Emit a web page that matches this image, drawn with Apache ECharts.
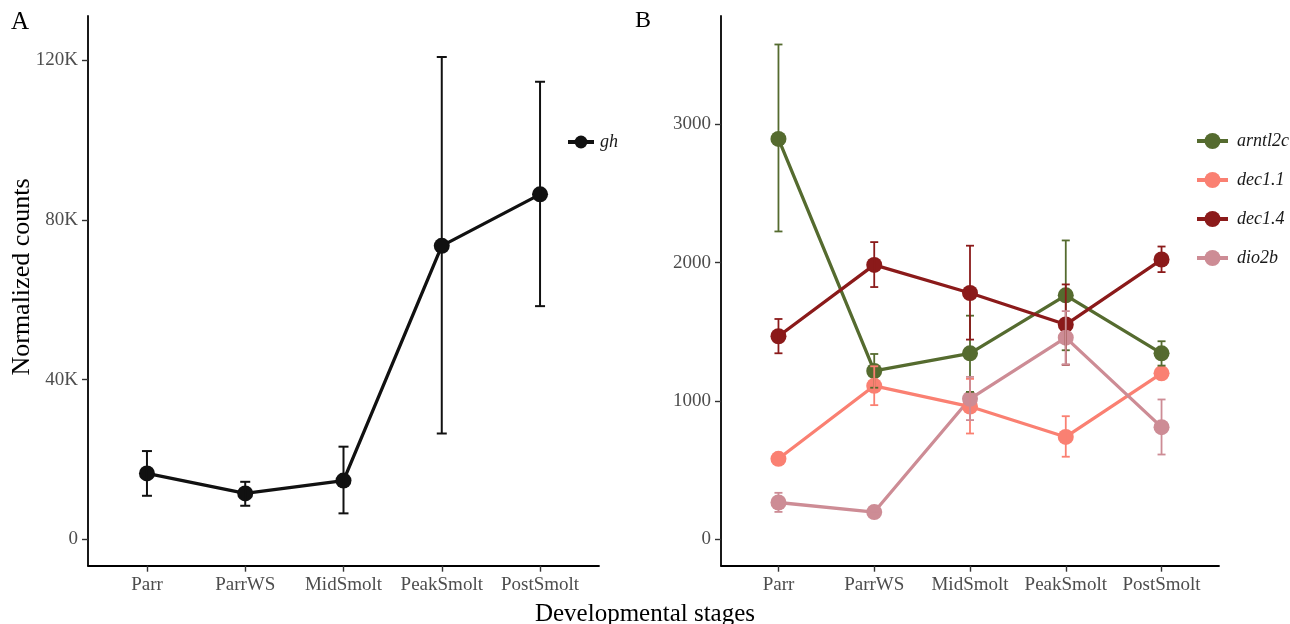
<!DOCTYPE html>
<html>
<head>
<meta charset="utf-8">
<script src="https://cdn.jsdelivr.net/npm/echarts@6/dist/echarts.min.js"></script>
<style>
html,body{margin:0;padding:0;background:#fff;}
#chart{width:1290px;height:624px;}
</style>
</head>
<body>
<div id="chart"></div>
<script>
// ---- data ----
const stages = ['Parr', 'ParrWS', 'MidSmolt', 'PeakSmolt', 'PostSmolt'];

const ticksA = [0, 40000, 80000, 120000];
const ticksB = [0, 1000, 2000, 3000];

const ghMean = [16500, 11500, 14700, 73500, 86400];
const ghLow  = [10900, 8400, 6500, 26500, 58400];
const ghHigh = [22100, 14400, 23200, 120800, 114600];

const arntl2cMean = [2895, 1217, 1345, 1764, 1345];
const arntl2cLow  = [2226, 1096, 1066, 1367, 1256];
const arntl2cHigh = [3578, 1340, 1617, 2161, 1432];

const dec11Mean = [582, 1110, 960, 740, 1200];
const dec11Low  = [555, 970, 765, 597, 1175];
const dec11High = [610, 1251, 1160, 890, 1225];

const dec14Mean = [1468, 1984, 1781, 1553, 2023];
const dec14Low  = [1345, 1824, 1444, 1262, 1932];
const dec14High = [1593, 2149, 2123, 1843, 2117];

const dio2bMean = [266, 197, 1016, 1458, 811];
const dio2bLow  = [198, 185, 862, 1265, 613];
const dio2bHigh = [336, 210, 1174, 1650, 1011];

// ---- build ----
const FONT = 'Liberation Serif';
const idx = stages.map((_, i) => i);

function xAxisCfg(gi) {
  return {
    type: 'value', gridIndex: gi, min: -0.6, max: 4.6,
    axisLine: {show: true, onZero: false, lineStyle: {color: '#000', width: 1.8}},
    axisTick: {show: true, customValues: idx, length: 6, lineStyle: {color: '#333', width: 1.4}},
    axisLabel: {show: true, customValues: idx, margin: 10, fontFamily: FONT, fontSize: 19, color: '#4d4d4d',
      formatter: v => stages[Math.round(v)]},
    splitLine: {show: false}
  };
}
function yAxisCfg(gi, min, max, ticks, fmt) {
  return {
    type: 'value', gridIndex: gi, min: min, max: max,
    axisLine: {show: true, onZero: false, lineStyle: {color: '#000', width: 1.8}},
    axisTick: {show: true, customValues: ticks, length: 6, lineStyle: {color: '#333', width: 1.4}},
    axisLabel: {show: true, customValues: ticks, margin: 10, fontFamily: FONT, fontSize: 19, color: '#4d4d4d',
      formatter: fmt},
    splitLine: {show: false}
  };
}

function lineSeries(name, mean, color, gi) {
  return {
    type: 'line', name: name, xAxisIndex: gi, yAxisIndex: gi, z: 2,
    data: mean.map((v, i) => [i, v]),
    symbol: 'circle', symbolSize: 16, showSymbol: true,
    lineStyle: {color: color, width: 3.3},
    itemStyle: {color: color},
    emphasis: {disabled: true}, silent: true
  };
}
function errSeries(name, low, high, color, gi, cap, lw) {
  return {
    type: 'custom', name: name, xAxisIndex: gi, yAxisIndex: gi, z: 3, silent: true,
    data: low.map((v, i) => [i, v, high[i]]),
    renderItem: function (params, api) {
      const x = api.value(0);
      const pl = api.coord([x, api.value(1)]);
      const ph = api.coord([x, api.value(2)]);
      const st = {stroke: color, lineWidth: lw};
      const w = cap / 2;
      return {type: 'group', children: [
        {type: 'line', shape: {x1: pl[0], y1: pl[1], x2: ph[0], y2: ph[1]}, style: st},
        {type: 'line', shape: {x1: pl[0] - w, y1: pl[1], x2: pl[0] + w, y2: pl[1]}, style: st},
        {type: 'line', shape: {x1: ph[0] - w, y1: ph[1], x2: ph[0] + w, y2: ph[1]}, style: st}
      ]};
    }
  };
}

const colGh = '#111111';
const colArntl = '#556B2F';
const colDec11 = '#FA8072';
const colDec14 = '#8B1A1A';
const colDio = '#CD8C95';

const chart = echarts.init(document.getElementById('chart'), null, {renderer: 'canvas'});
chart.setOption({
  animation: false,
  backgroundColor: '#fff',
  grid: [
    {left: 88, top: 16, width: 511, height: 549.7, containLabel: false},
    {left: 721, top: 16, width: 498, height: 549.7, containLabel: false}
  ],
  xAxis: [xAxisCfg(0), xAxisCfg(1)],
  yAxis: [
    yAxisCfg(0, -6612, 131070, ticksA, v => v === 0 ? '0' : (v / 1000) + 'K'),
    yAxisCfg(1, -191, 3784, ticksB, v => String(v))
  ],
  legend: [
    {data: ['gh'], left: 566, top: 133, padding: 0, itemWidth: 26, itemHeight: 16, selectedMode: false,
      lineStyle: {width: 4},
      textStyle: {fontFamily: FONT, fontStyle: 'italic', fontSize: 18, color: '#1a1a1a', padding: [0, 0, 0, 1]}},
    {data: ['arntl2c', 'dec1.1', 'dec1.4', 'dio2b'], orient: 'vertical', left: 1195, top: 132, padding: 0,
      itemWidth: 31, itemHeight: 20, itemGap: 21, selectedMode: false,
      lineStyle: {width: 4},
      textStyle: {fontFamily: FONT, fontStyle: 'italic', fontSize: 18, color: '#1a1a1a', padding: [0, 0, 0, 4]}}
  ],
  series: [
    lineSeries('gh', ghMean, colGh, 0),
    errSeries('gh', ghLow, ghHigh, colGh, 0, 10, 2),
    lineSeries('arntl2c', arntl2cMean, colArntl, 1),
    lineSeries('dec1.1', dec11Mean, colDec11, 1),
    lineSeries('dec1.4', dec14Mean, colDec14, 1),
    lineSeries('dio2b', dio2bMean, colDio, 1),
    errSeries('arntl2c', arntl2cLow, arntl2cHigh, colArntl, 1, 8, 1.8),
    errSeries('dec1.1', dec11Low, dec11High, colDec11, 1, 8, 1.8),
    errSeries('dec1.4', dec14Low, dec14High, colDec14, 1, 8, 1.8),
    errSeries('dio2b', dio2bLow, dio2bHigh, colDio, 1, 8, 1.8)
  ],
  graphic: [
    {type: 'text', left: 11, top: 10, style: {text: 'A', font: '25px "Liberation Serif"', fill: '#000'}},
    {type: 'text', left: 635, top: 9, style: {text: 'B', font: '24px "Liberation Serif"', fill: '#000'}},
    {type: 'text', x: 22, y: 277, rotation: Math.PI / 2,
      style: {text: 'Normalized counts', font: '26px "Liberation Serif"', fill: '#000', align: 'center', verticalAlign: 'middle'}},
    {type: 'text', x: 645, y: 614,
      style: {text: 'Developmental stages', font: '25px "Liberation Serif"', fill: '#000', align: 'center', verticalAlign: 'middle'}}
  ]
});
</script>
</body>
</html>
